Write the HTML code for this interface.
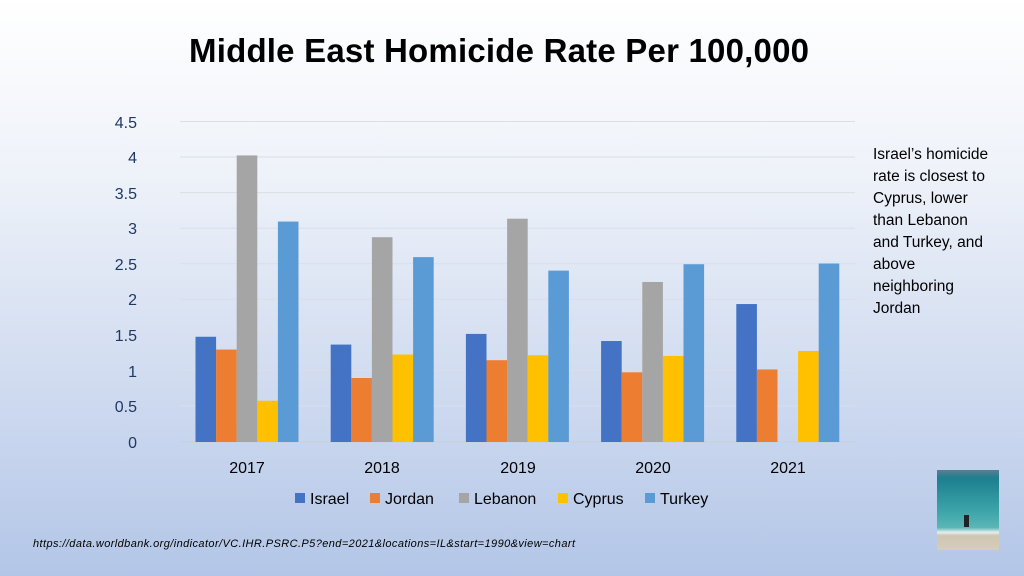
<!DOCTYPE html>
<html><head><meta charset="utf-8"><style>
html,body{margin:0;padding:0}
body{width:1024px;height:576px;overflow:hidden;background:linear-gradient(#ffffff 0%,#eef2f9 30%,#c9d6ee 75%,#b3c6e7 100%);font-family:"Liberation Sans",sans-serif}
</style></head><body>
<svg width="1024" height="576" xmlns="http://www.w3.org/2000/svg" style="position:absolute;left:0;top:0">
<text x="499" y="62" text-anchor="middle" font-size="33" font-weight="bold" fill="#000" textLength="620">Middle East Homicide Rate Per 100,000</text>
<g stroke="#d9dee8" stroke-width="1">
<line x1="180" x2="855" y1="121.5" y2="121.5"/><line x1="180" x2="855" y1="157" y2="157"/>
<line x1="180" x2="855" y1="192.6" y2="192.6"/><line x1="180" x2="855" y1="228.2" y2="228.2"/>
<line x1="180" x2="855" y1="263.8" y2="263.8"/><line x1="180" x2="855" y1="299.3" y2="299.3"/>
<line x1="180" x2="855" y1="334.9" y2="334.9"/><line x1="180" x2="855" y1="370.4" y2="370.4"/>
<line x1="180" x2="855" y1="406" y2="406"/>
</g>
<line x1="180" x2="855" y1="442" y2="442" stroke="#c8ced8"/>
<g font-size="16" fill="#1f3864" text-anchor="end">
<text x="137" y="128">4.5</text><text x="137" y="163">4</text><text x="137" y="199">3.5</text>
<text x="137" y="234">3</text><text x="137" y="270">2.5</text><text x="137" y="305">2</text>
<text x="137" y="341">1.5</text><text x="137" y="377">1</text><text x="137" y="412">0.5</text>
<text x="137" y="448">0</text>
</g>
<g id="bars"></g>
<g font-size="16" fill="#000" text-anchor="middle">
<text x="247" y="473">2017</text><text x="382" y="473">2018</text><text x="518" y="473">2019</text>
<text x="653" y="473">2020</text><text x="788" y="473">2021</text>
</g>
<g font-size="16" fill="#000">
<rect x="295" y="493" width="10" height="10" fill="#4472c4"/><text x="310" y="504">Israel</text>
<rect x="370" y="493" width="10" height="10" fill="#ed7d31"/><text x="385" y="504">Jordan</text>
<rect x="459" y="493" width="10" height="10" fill="#a5a5a5"/><text x="474" y="504">Lebanon</text>
<rect x="558" y="493" width="10" height="10" fill="#ffc000"/><text x="573" y="504">Cyprus</text>
<rect x="645" y="493" width="10" height="10" fill="#5b9bd5"/><text x="660" y="504">Turkey</text>
</g>
<g font-size="15.5" fill="#000">
<text x="873" y="159">Israel’s homicide</text><text x="873" y="181">rate is closest to</text>
<text x="873" y="203">Cyprus, lower</text><text x="873" y="225">than Lebanon</text>
<text x="873" y="247">and Turkey, and</text><text x="873" y="269">above</text>
<text x="873" y="291">neighboring</text><text x="873" y="313">Jordan</text>
</g>
<text x="33" y="547" font-size="11" font-style="italic" fill="#000" textLength="542">https://data.worldbank.org/indicator/VC.IHR.PSRC.P5?end=2021&amp;locations=IL&amp;start=1990&amp;view=chart</text>
<defs><linearGradient id="sea" x1="0" y1="0" x2="0" y2="1">
<stop offset="0" stop-color="#5a7f93"/><stop offset="0.1" stop-color="#1d7f8e"/><stop offset="0.5" stop-color="#3aa3a8"/><stop offset="0.72" stop-color="#5cb6b6"/><stop offset="0.78" stop-color="#e6eeee"/><stop offset="0.82" stop-color="#cfc6b2"/><stop offset="1" stop-color="#d6cdbb"/></linearGradient></defs>
<rect x="937" y="470" width="62" height="80" fill="url(#sea)"/>
<rect x="964" y="515" width="5" height="12" fill="#222"/>
</svg>
<script>
var vals=[[1.48,1.3,4.03,0.58,3.1],[1.37,0.9,2.88,1.23,2.6],[1.52,1.15,3.14,1.22,2.41],[1.42,0.98,2.25,1.21,2.5],[1.94,1.02,0,1.28,2.51]];
var cols=["#4472c4","#ed7d31","#a5a5a5","#ffc000","#5b9bd5"];
var g=document.getElementById("bars"),s="";
for(var i=0;i<5;i++){var c=247+i*135.2;for(var j=0;j<5;j++){var v=vals[i][j];if(!v)continue;var h=v*71.11;
s+='<rect x="'+(c-51.5+j*20.6)+'" y="'+(442-h)+'" width="20.6" height="'+h+'" fill="'+cols[j]+'"/>';}}
g.innerHTML=s;
</script>
</body></html>
